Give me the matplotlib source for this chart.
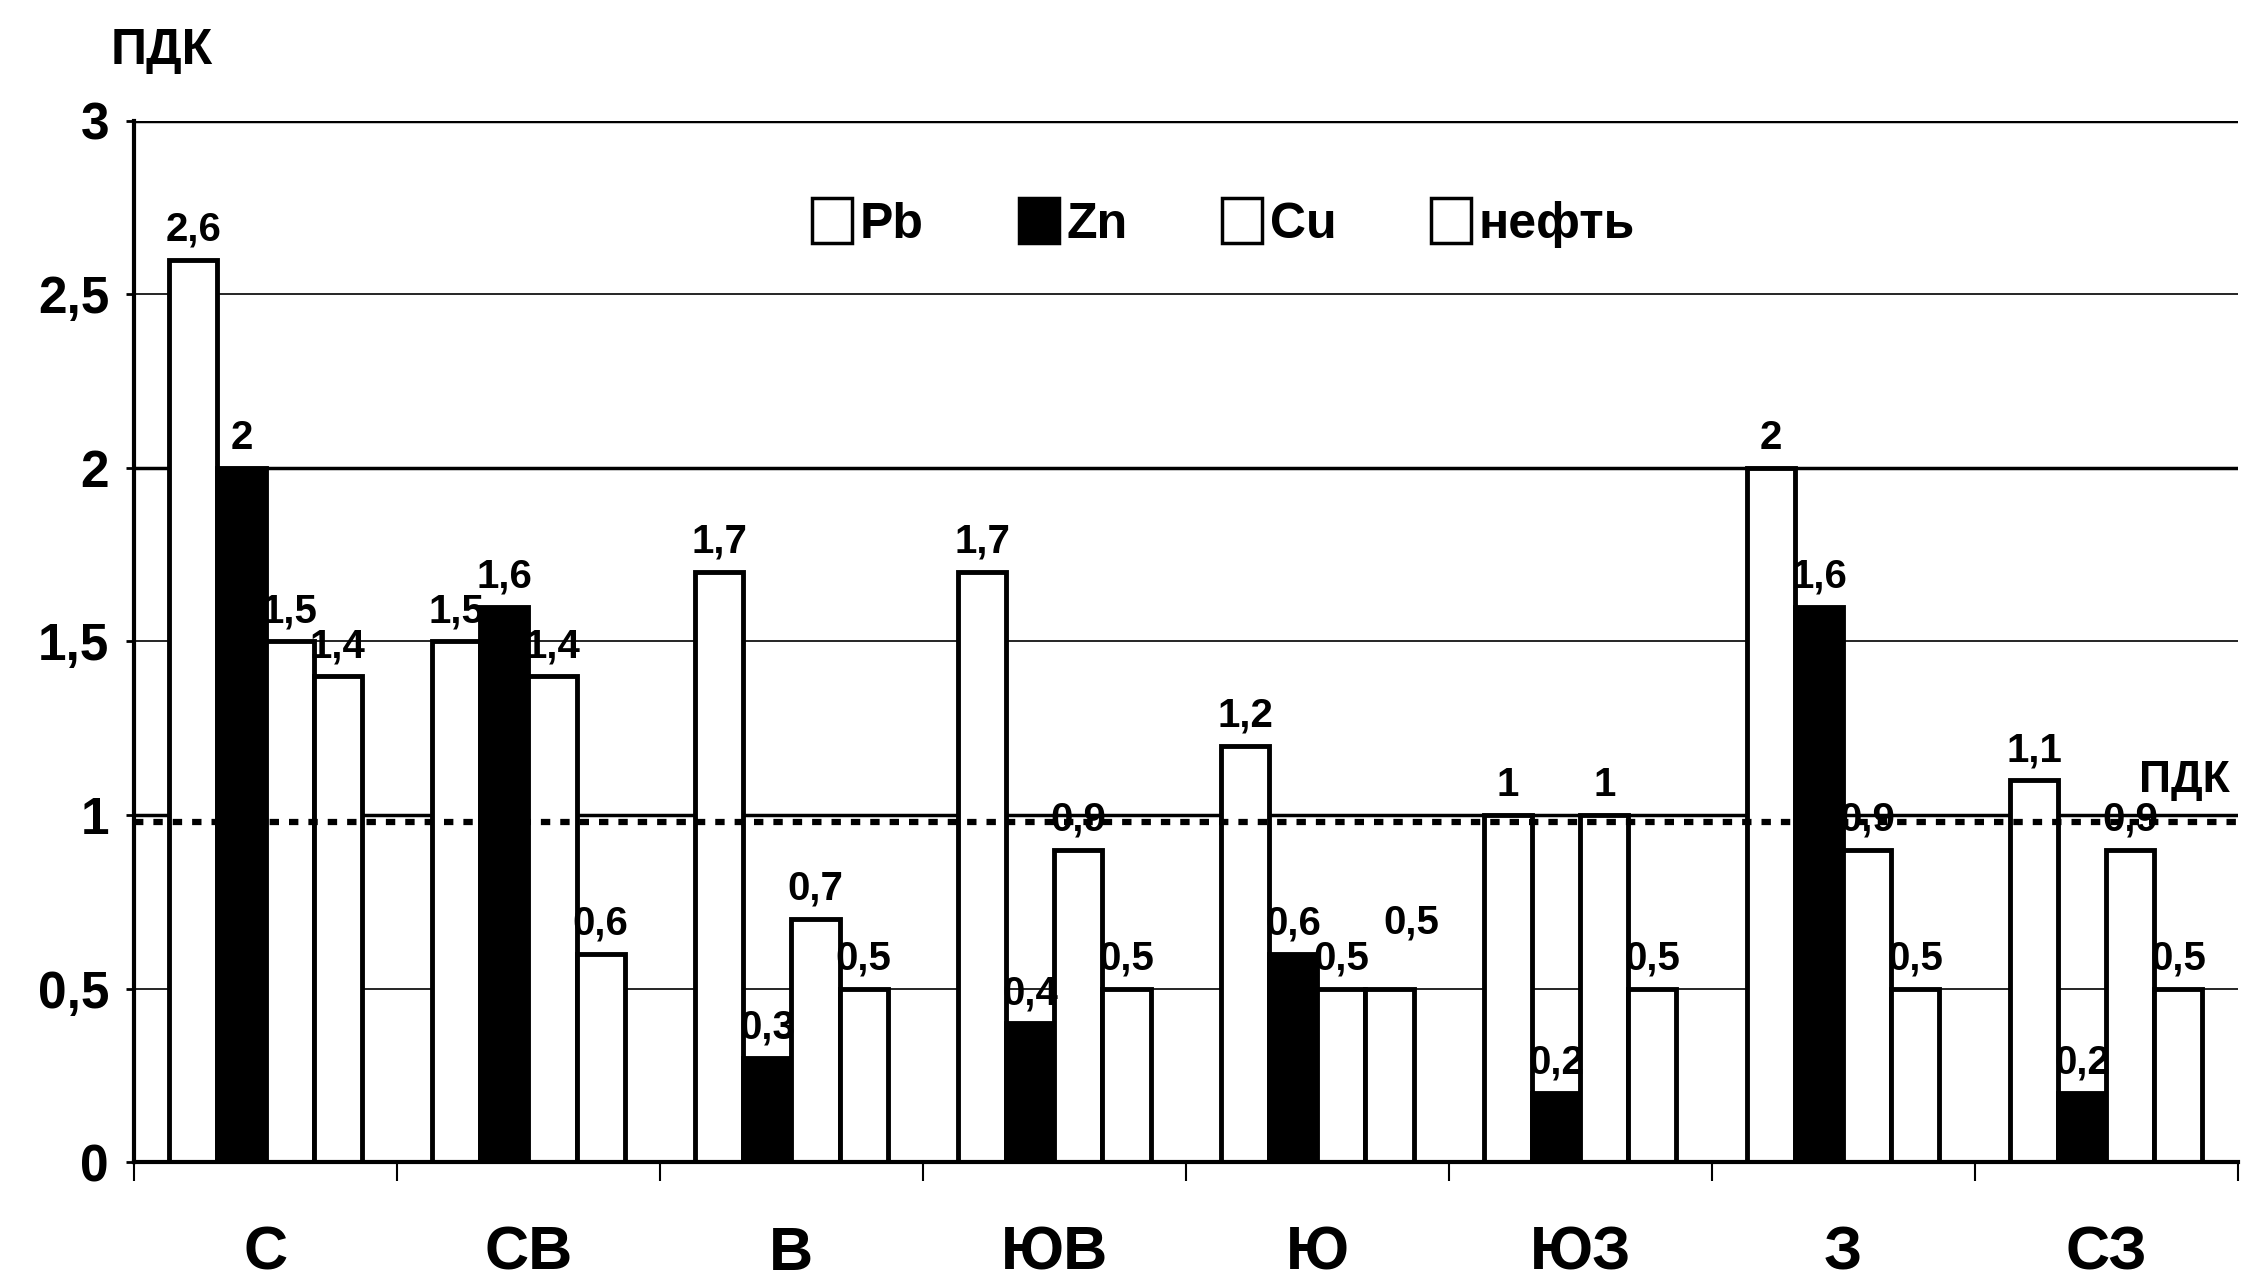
import numpy as np
import matplotlib.pyplot as plt
from matplotlib.patches import Patch

plt.rcParams['font.family'] = ['Liberation Sans', 'DejaVu Sans']

# направления и значения в долях ПДК
napr = ['С', 'СВ', 'В', 'ЮВ', 'Ю', 'ЮЗ', 'З', 'СЗ']
pb = [2.6, 1.5, 1.7, 1.7, 1.2, 1.0, 2.0, 1.1]
zn = [2.0, 1.6, 0.3, 0.4, 0.6, 0.2, 1.6, 0.2]
cu = [1.5, 1.4, 0.7, 0.9, 0.5, 1.0, 0.9, 0.9]
neft = [1.4, 0.6, 0.5, 0.5, 0.5, 0.5, 0.5, 0.5]
series = ['Pb', 'Zn', 'Cu', 'нефть']
cveta = ['white', 'black', 'white', 'white']
pdk = 0.98

def fmt(v):
    s = "{:g}".format(v)
    return s.replace('.', ',')

fig = plt.figure(figsize=(22.57, 12.87), dpi=100)
ax = fig.add_axes([0.0594, 0.0971, 0.932, 0.809])

x = np.arange(len(napr))
w = 0.183
dannye = [pb, zn, cu, neft]

# сетка
for yy in [0.5, 1.5, 2.5]:
    ax.axhline(yy, color='black', lw=1.2, zorder=1)
for yy in [1, 2, 3]:
    ax.axhline(yy, color='black', lw=2.5, zorder=1)

# сдвиг подписи, чтобы не налезала на соседнюю (серия, направление)
sdvig = {(3, 4): (16, 26)}

for i, vals in enumerate(dannye):
    pos = x + (i - 1.5) * w
    ax.bar(pos, vals, w, color=cveta[i], edgecolor='black', lw=3.5, zorder=2)
    for j, (px, v) in enumerate(zip(pos, vals)):
        dx, dy = sdvig.get((i, j), (0, 0))
        ax.annotate(fmt(v), (px, v), xytext=(dx, 8 + dy), textcoords='offset points',
                    ha='center', va='bottom', fontsize=29, fontweight='bold')

ax.axhline(pdk, color='black', lw=4.5, ls=(0, (1.5, 1.6)), zorder=3)
ax.text(7.47, pdk + 0.06, 'ПДК', fontsize=32, fontweight='bold', ha='right', va='bottom')

ax.set_xlim(-0.5, 7.5)
ax.set_ylim(0, 3)
ax.set_yticks([0, 0.5, 1, 1.5, 2, 2.5, 3])
ax.set_yticklabels([fmt(t) for t in [0, 0.5, 1, 1.5, 2, 2.5, 3]],
                   fontsize=37, fontweight='bold')
ax.tick_params(axis='y', direction='out', length=6, width=2, pad=12)

ax.set_xticks(np.arange(-0.5, 8, 1))
ax.set_xticklabels([])
ax.tick_params(axis='x', direction='out', length=14, width=1.5)
for xi, name in zip(x, napr):
    ax.text(xi, -0.265, name, fontsize=44, fontweight='bold', ha='center', va='center',
            transform=ax.transData)

for s in ['top', 'right']:
    ax.spines[s].set_visible(False)
ax.spines['left'].set_linewidth(3)
ax.spines['bottom'].set_linewidth(3)

fig.text(0.0715, 0.96, 'ПДК', fontsize=36, fontweight='bold', ha='center', va='center')

handles = [Patch(facecolor=c, edgecolor='black', lw=2.5, label=s)
           for c, s in zip(cveta, series)]
ax.legend(handles=handles, loc='center', bbox_to_anchor=(0.518, 0.902), ncol=4,
          frameon=False, prop={'size': 36, 'weight': 'bold'},
          handlelength=0.8, handleheight=1.0, handletextpad=0.15, columnspacing=1.9)

fig.savefig('out.png', dpi=100)
